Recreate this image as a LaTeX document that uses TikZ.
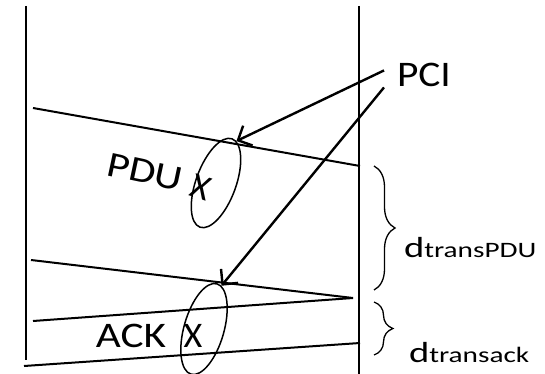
\documentclass[tikz,border=0pt]{standalone}
\usepackage{graphicx}
\usepackage{fontspec}
\setmainfont{Carlito}
\usetikzlibrary{arrows.meta,decorations.pathreplacing,shapes.geometric}
\newcommand{\wide}[2][1.2]{\scalebox{#1}[1]{#2}}

\begin{document}
\begin{tikzpicture}[x=1pt,y=-1pt,line width=2pt,
  big/.style={inner sep=0pt,font=\fontsize{36}{40}\selectfont},
  ring/.style={draw,ellipse,inner sep=0pt,minimum width=94pt,minimum height=40pt,line width=1.5pt},
  ptr/.style={-{Straight Barb[length=11pt,width=22pt]},line width=2.4pt},
  delay/.style={inner sep=0pt,anchor=base west}]
\useasboundingbox (0,0) rectangle (545,374);

%%% the two time lines
\draw[line width=1.8pt] (26,6) -- (26,360);
\draw[line width=1.8pt] (359,6) -- (359,374);

%%% PDU going over
\draw (33,108) -- (360,166);
\draw (31,260) -- (353,298);
%%% ACK coming back
\draw (353,298) -- (33,321);
\draw (360,343) -- (24,366);

%%% labels
\node[big,anchor=base west] (pci) at (396,87) {\wide[1.15]{PCI}};
\node[big,rotate=-12] (pdu) at (145,172) {\wide{PDU}};
\node[big,rotate=-18] (xpdu) at (201,187) {X};
\node[big,anchor=base] (ack) at (131,347) {\wide{ACK}};
\node[big,anchor=base] (xack) at (193,347) {X};

%%% circled PCI
\node[ring,rotate=70] (ringpdu) at (216,183) {};
\node[ring,rotate=74] (ringack) at (204,329) {};

\draw[ptr] ([shift={(-12pt,5pt)}]pci.west) -- (ringpdu.-6);
\draw[ptr] ([shift={(-12pt,-12pt)}]pci.west) -- (ringack.-6);

%%% delays
\draw[decorate,decoration={brace,amplitude=21pt},line width=1.3pt] (374,166) -- (374,290);
\draw[decorate,decoration={brace,amplitude=19pt},line width=1.3pt] (374,302) -- (374,355);
\node[delay] (dpdu) at (403,257) {\wide[1.33]{\fontsize{29}{30}\selectfont d\fontsize{22}{24}\selectfont transPDU}};
\node[delay] (dack) at (408,362) {\wide[1.33]{\fontsize{29}{30}\selectfont d\fontsize{22}{24}\selectfont transack}};
\end{tikzpicture}
\end{document}
